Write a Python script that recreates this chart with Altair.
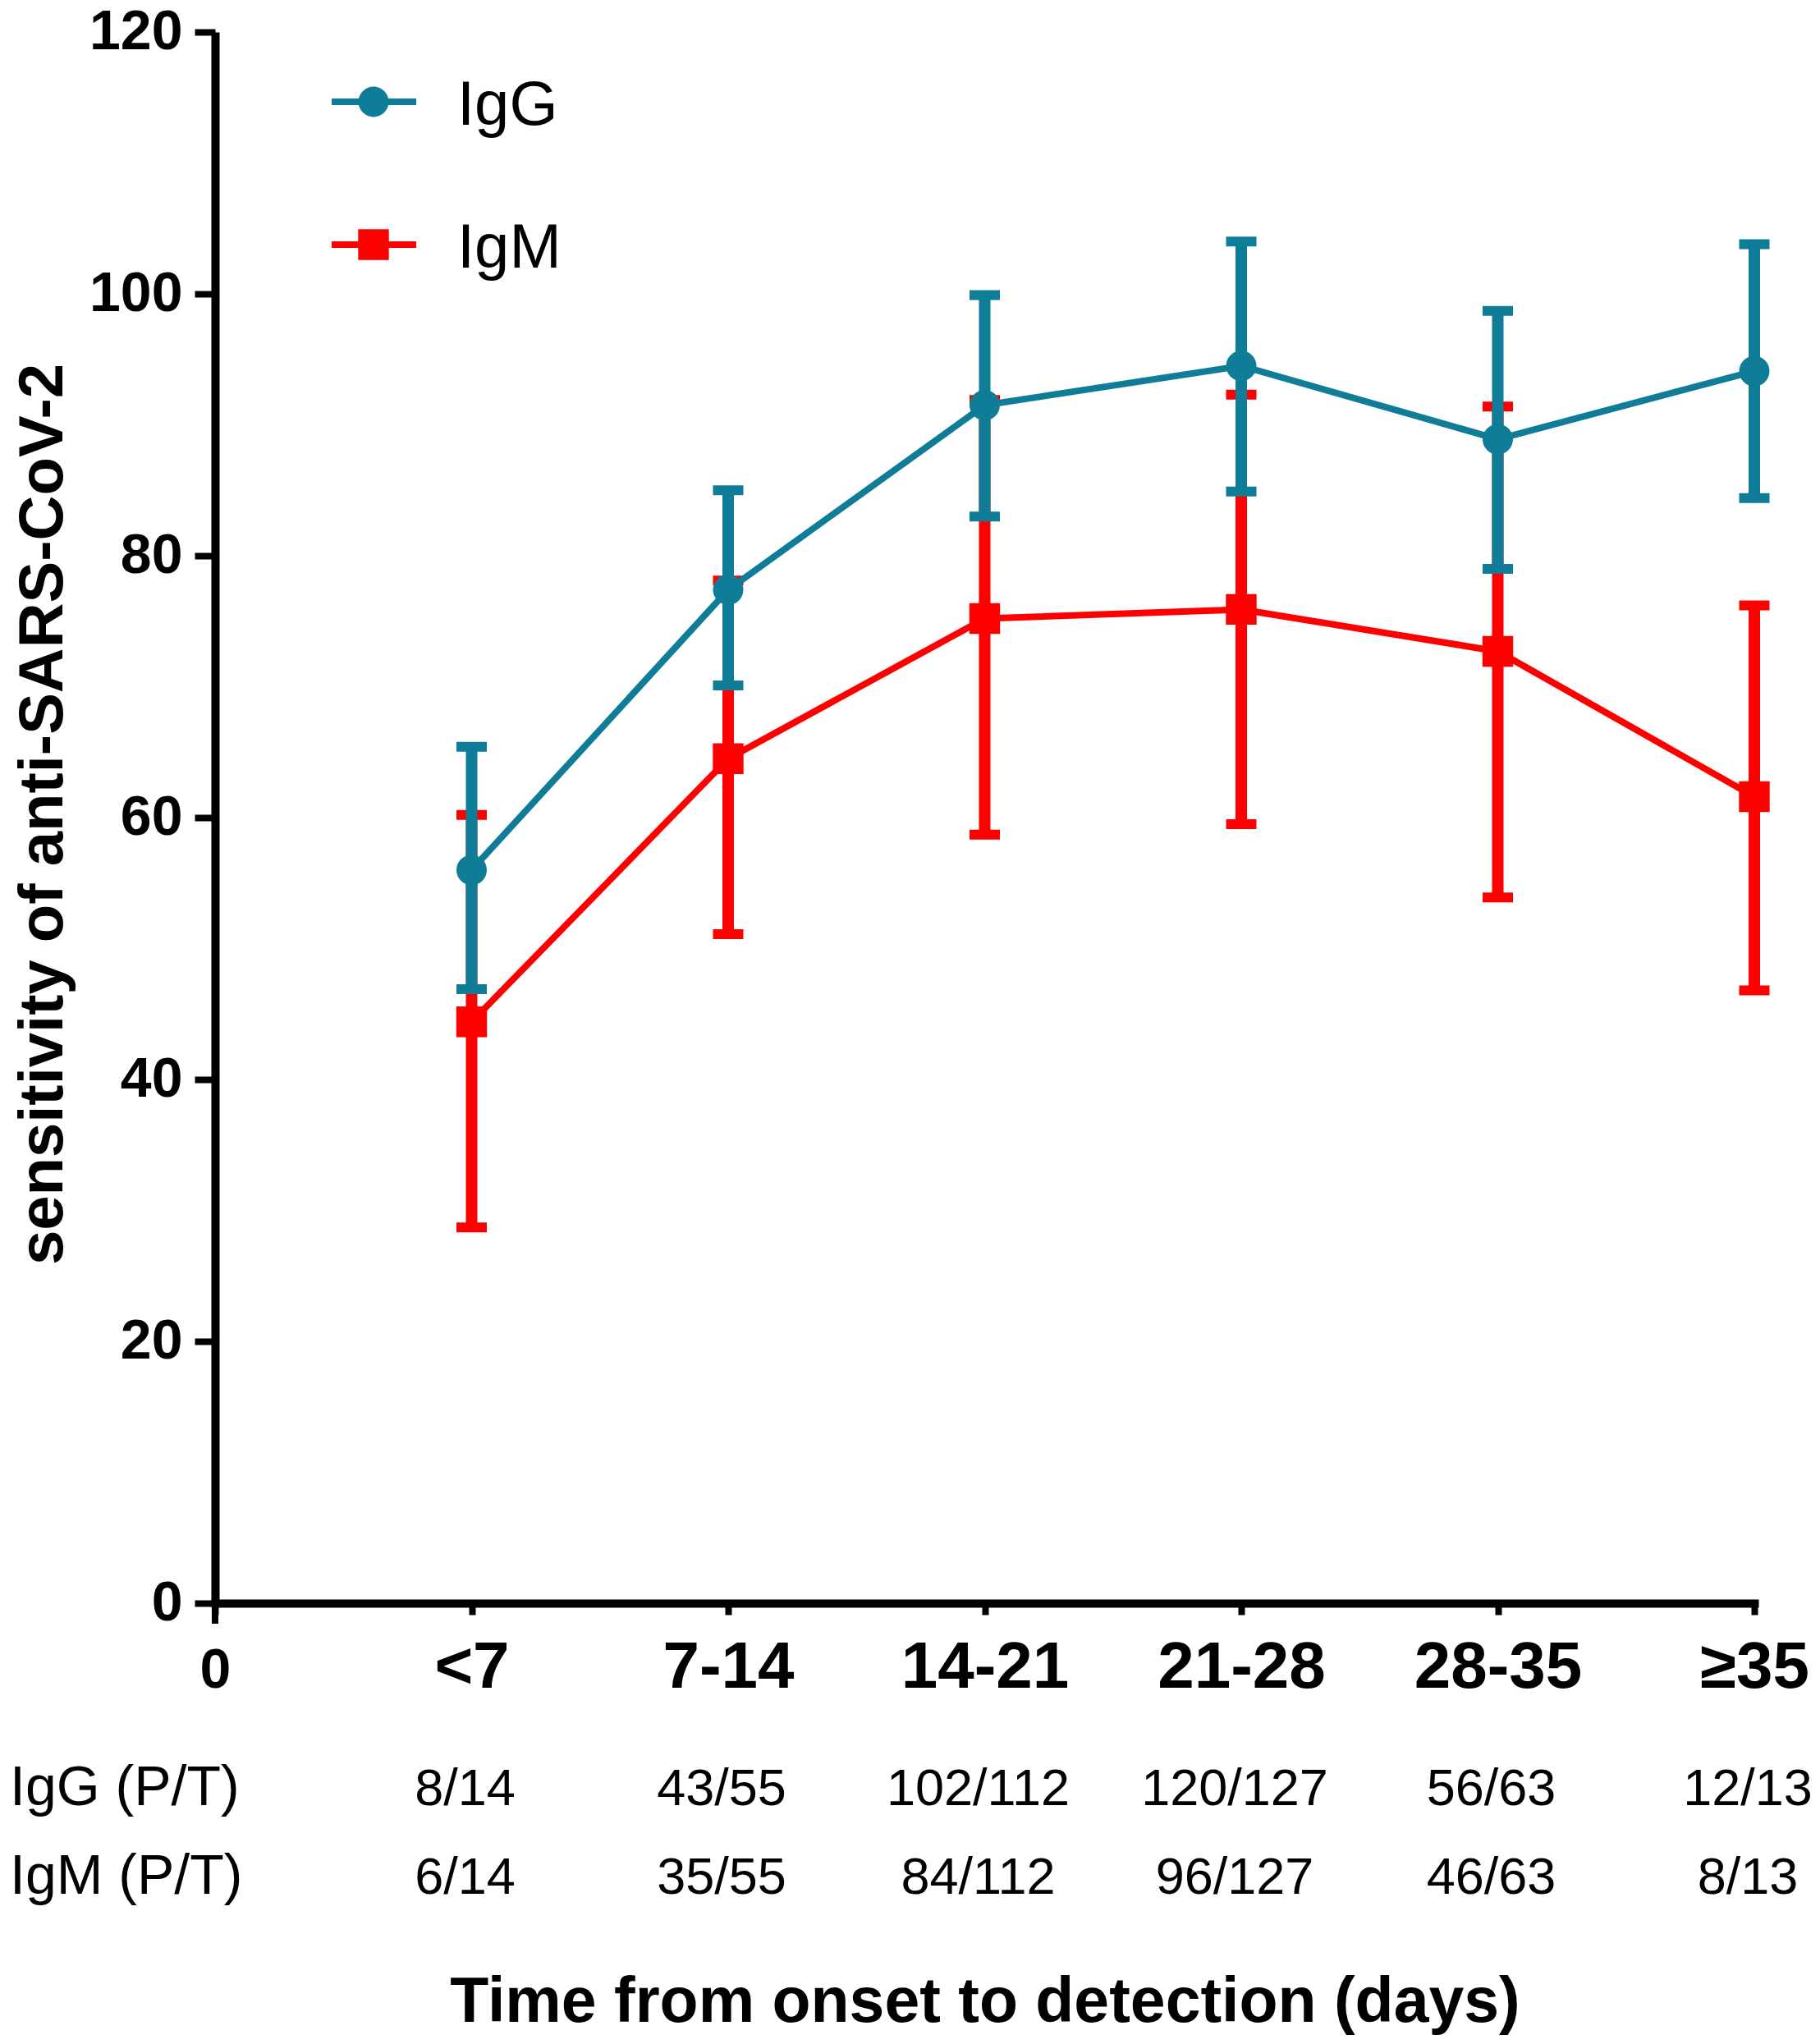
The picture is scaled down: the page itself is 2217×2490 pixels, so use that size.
import json
import altair as alt
import pandas as pd

# ---------------- data ----------------
categories = ["<7", "7-14", "14-21", "21-28", "28-35", "≥35"]
positions = [1, 2, 3, 4, 5, 6]

igg_mean = [56.0, 77.4, 91.5, 94.5, 88.9, 94.1]
igg_low = [46.9, 70.1, 83.0, 84.9, 79.0, 84.4]
igg_high = [65.4, 85.0, 99.9, 104.0, 98.7, 103.8]

igm_mean = [44.4, 64.5, 75.2, 75.9, 72.7, 61.6]
igm_low = [28.7, 51.1, 58.7, 59.5, 53.9, 46.8]
igm_high = [60.2, 78.1, 91.9, 92.3, 91.4, 76.2]

igg_pt = ["8/14", "43/55", "102/112", "120/127", "56/63", "12/13"]
igm_pt = ["6/14", "35/55", "84/112", "96/127", "46/63", "8/13"]
row_labels = ["IgG (P/T)", "IgM (P/T)"]
series_names = ["IgG", "IgM"]

x_ticks = [0, 1, 2, 3, 4, 5, 6]
x_tick_labels = ["0"] + categories
y_ticks = [0, 20, 40, 60, 80, 100, 120]

# ---------------- styling / layout ----------------
TEAL = "#0f7c98"
RED = "#ff0000"
FONT = "Liberation Sans"
TOP = 31
W, H = 1875, 1945 - TOP
SHIFT = TOP - 22  # keeps the legend at its reference position

xscale = alt.Scale(domain=[0, 6], nice=False, zero=False)
yscale = alt.Scale(domain=[0, 120], nice=False, zero=False)

label_expr = json.dumps(x_tick_labels, ensure_ascii=False) + "[datum.value]"

xaxis = alt.Axis(
    values=x_ticks,
    labelExpr=label_expr,
    title="Time from onset to detection (days)",
    grid=False,
    domainColor="black", domainWidth=10, domainCap="square",
    tickColor="black", tickWidth=8, tickSize=14,
    labelFont=FONT, labelFontWeight="bold",
    labelFontSize=alt.condition("datum.value == 0", alt.value(68), alt.value(80)),
    labelColor="black", labelBaseline="alphabetic", labelPadding=88,
    labelOverlap=False, labelFlush=False, labelLimit=0,
    titleFont=FONT, titleFontSize=77, titleFontWeight="bold", titleColor="black",
    titleBaseline="alphabetic", titleAlign="center", titleX=W / 2, titleY=509,
    titleLimit=0,
)

yaxis = alt.Axis(
    values=y_ticks,
    title="sensitivity of anti-SARS-CoV-2",
    grid=False,
    domainColor="black", domainWidth=10,
    tickColor="black", tickWidth=8, tickSize=25,
    labelFont=FONT, labelFontWeight="bold", labelFontSize=68,
    labelColor="black", labelPadding=15, labelOverlap=False, labelLimit=0,
    titleFont=FONT, titleFontSize=76, titleFontWeight="bold", titleColor="black",
    titleAngle=270, titleBaseline="alphabetic", titleAlign="center",
    titleX=-187, titleY=(1945 - 22) / 2 - SHIFT, titleLimit=0,
)


def X():
    return alt.X("idx:Q", scale=xscale, axis=xaxis)


def Y(field):
    return alt.Y(f"{field}:Q", scale=yscale, axis=yaxis)


def frame(mean, low, high):
    return pd.DataFrame({"idx": positions, "cat": categories,
                         "mean": mean, "lo": low, "hi": high})


def series_layers(df, color, shape, size):
    base = alt.Chart(df)
    bar = base.mark_rule(color=color, strokeWidth=14).encode(
        x=X(), y=Y("lo"), y2="hi:Q")
    cap_lo = base.mark_tick(color=color, orient="horizontal", size=37,
                            thickness=12, opacity=1).encode(x=X(), y=Y("lo"))
    cap_hi = base.mark_tick(color=color, orient="horizontal", size=37,
                            thickness=12, opacity=1).encode(x=X(), y=Y("hi"))
    line = base.mark_line(color=color, strokeWidth=8).encode(x=X(), y=Y("mean"))
    pts = base.mark_point(shape=shape, filled=True, size=size, color=color,
                          opacity=1).encode(x=X(), y=Y("mean"))
    return [bar, cap_lo, cap_hi, line, pts]


igg_df = frame(igg_mean, igg_low, igg_high)
igm_df = frame(igm_mean, igm_low, igm_high)

layers = []
layers += series_layers(igm_df, RED, "square", 1400)
layers += series_layers(igg_df, TEAL, "circle", 1370)

# longer tick at x = 0 (extension of y axis below the x axis)
zero_tick = alt.Chart(pd.DataFrame({"idx": [0]})).mark_rule(
    color="black", strokeWidth=8).encode(x=X(), y=alt.value(H), y2=alt.value(H + 25))
layers.append(zero_tick)

# P/T rows under the axis (baselines measured from the plot bottom)
row_y = [H + 246, H + 354]
for lab, pts, yy in zip(row_labels, [igg_pt, igm_pt], row_y):
    tdf = pd.DataFrame({"idx": positions, "pt": pts})
    layers.append(
        alt.Chart(tdf).mark_text(font=FONT, fontSize=63, align="center", dx=-8,
                                 baseline="alphabetic", color="black")
        .encode(x=X(), y=alt.value(yy), text="pt:N")
    )
    layers.append(
        alt.Chart(pd.DataFrame({"lab": [lab]})).mark_text(
            font=FONT, fontSize=68, align="left", baseline="alphabetic", color="black")
        .encode(x=alt.value(-250), y=alt.value(yy), text="lab:N")
    )

# legend (drawn manually: line + marker + label)
leg_items = [(series_names[0], TEAL, "circle", 1370, 94 - SHIFT, 122 - SHIFT),
             (series_names[1], RED, "square", 1400, 268 - SHIFT, 296 - SHIFT)]
for name, color, shape, size, ly, ty in leg_items:
    ldf = pd.DataFrame({"s": [name]})
    layers.append(alt.Chart(ldf).mark_rule(color=color, strokeWidth=8).encode(
        x=alt.value(142), x2=alt.value(245), y=alt.value(ly)))
    layers.append(alt.Chart(ldf).mark_point(shape=shape, filled=True, size=size,
                                            color=color, opacity=1).encode(
        x=alt.value(193), y=alt.value(ly)))
    layers.append(alt.Chart(ldf).mark_text(font=FONT, fontSize=76, align="left",
                                           baseline="alphabetic", color="black").encode(
        x=alt.value(295), y=alt.value(ty), text="s:N"))

chart = alt.layer(*layers).properties(
    width=W, height=H,
    padding={"left": 254, "top": TOP, "right": 72, "bottom": 529},
    autosize=alt.AutoSizeParams(type="none"),
    background="white",
).configure_view(stroke=None)

chart.save("out.html", embed_options={"renderer": "svg", "actions": False})
